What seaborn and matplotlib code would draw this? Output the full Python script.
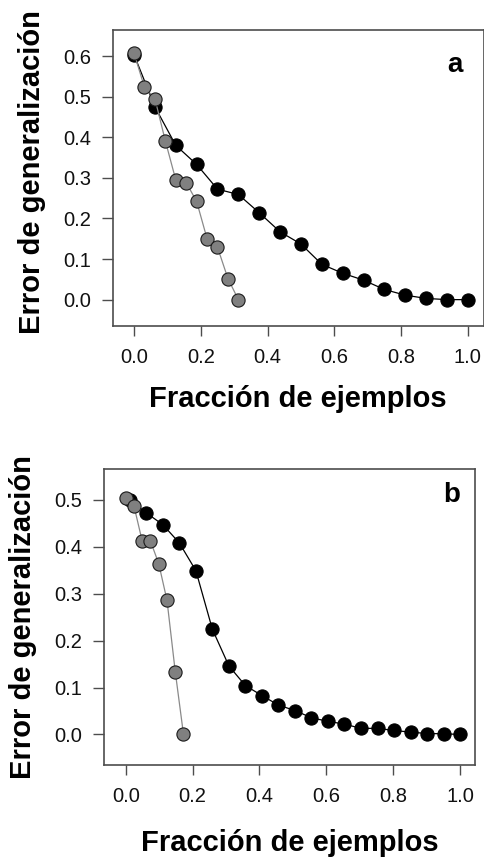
import matplotlib
matplotlib.use("Agg")
import matplotlib.pyplot as plt
import seaborn as sns
import numpy as np

# panel a: black curve (steps of 2/32) and gray curve (steps of 1/32)
a_black_x = [0, 2/32, 4/32, 6/32, 8/32, 10/32, 12/32, 14/32, 16/32, 18/32,
             20/32, 22/32, 24/32, 26/32, 28/32, 30/32, 1.0]
a_black_y = [0.603, 0.475, 0.380, 0.333, 0.272, 0.259, 0.214, 0.167, 0.137,
             0.087, 0.065, 0.048, 0.025, 0.011, 0.003, 0.0, 0.0]
a_gray_x = [0, 1/32, 2/32, 3/32, 4/32, 5/32, 6/32, 7/32, 8/32, 9/32, 10/32]
a_gray_y = [0.607, 0.523, 0.495, 0.391, 0.295, 0.288, 0.242, 0.150, 0.129,
            0.052, 0.0]

# panel b: black curve (steps of 4/81) and gray curve (steps of 2/81)
b_black_x = [1/81, 5/81, 9/81, 13/81, 17/81, 21/81, 25/81, 29/81, 33/81,
             37/81, 41/81, 45/81, 49/81, 53/81, 57/81, 61/81, 65/81, 69/81,
             73/81, 77/81, 1.0]
b_black_y = [0.499, 0.472, 0.447, 0.408, 0.349, 0.224, 0.146, 0.104, 0.083,
             0.0625, 0.051, 0.0355, 0.028, 0.022, 0.013, 0.013, 0.0085,
             0.005, 0.002, 0.0015, 0.0]
b_gray_x = [0, 2/81, 4/81, 6/81, 8/81, 10/81, 12/81, 14/81]
b_gray_y = [0.504, 0.487, 0.412, 0.412, 0.364, 0.286, 0.134, 0.0]

xticks = [0, 0.2, 0.4, 0.6, 0.8, 1.0]

sns.set_style("ticks")
plt.rcParams['font.family'] = ['Liberation Sans', 'DejaVu Sans']
plt.rcParams['text.color'] = 'black'
plt.rcParams['axes.labelcolor'] = 'black'

fig = plt.figure(figsize=(4.84, 8.6), dpi=100)
ax_a = fig.add_axes([0.2335, 0.6209, 0.7655, 0.3442])
ax_b = fig.add_axes([0.2155, 0.1105, 0.7655, 0.3438])

box_col = '#4d4d4d'


def draw_panel(ax, bx, by, gx, gy, letter, yticks, ylim, xlim, lpos,
               ylab_pos, xlab_pos):
    sns.lineplot(x=bx, y=by, ax=ax, color='black', linewidth=0.9,
                 marker='o', markersize=9.5, markerfacecolor='black',
                 markeredgecolor='black', markeredgewidth=0.8, sort=False)
    sns.lineplot(x=gx, y=gy, ax=ax, color='#8a8a8a', linewidth=0.9,
                 marker='o', markersize=9.5, markerfacecolor='#808080',
                 markeredgecolor='#1a1a1a', markeredgewidth=0.8, sort=False)
    ax.set_xlim(*xlim)
    ax.set_ylim(*ylim)
    ax.set_xticks(xticks)
    ax.set_xticklabels(['%.1f' % t for t in xticks])
    ax.set_yticks(yticks)
    ax.set_yticklabels(['%.1f' % t for t in yticks])
    for s in ax.spines.values():
        s.set_visible(True)
        s.set_color(box_col)
        s.set_linewidth(1.2)
    ax.tick_params(axis='x', length=7, width=1, color=box_col, pad=9,
                   labelsize=14.5, labelcolor='#111111')
    ax.tick_params(axis='y', length=8, width=1, color=box_col, pad=8,
                   labelsize=14.5, labelcolor='#111111')
    ax.set_xlabel('Fracción de ejemplos', fontsize=21, fontweight='bold',
                  va='center')
    ax.set_ylabel('Error de generalización', fontsize=21, fontweight='bold',
                  va='center')
    ax.xaxis.set_label_coords(*xlab_pos)
    ax.yaxis.set_label_coords(*ylab_pos)
    ax.text(lpos[0], lpos[1], letter, transform=ax.transAxes, fontsize=20,
            fontweight='bold', ha='center', va='center')


draw_panel(ax_a, a_black_x, a_black_y, a_gray_x, a_gray_y, 'a',
           [0.0, 0.1, 0.2, 0.3, 0.4, 0.5, 0.6], (-0.065, 0.664),
           (-0.063, 1.047), (0.923, 0.882), (-0.218, 0.52), (0.5, -0.245))
draw_panel(ax_b, b_black_x, b_black_y, b_gray_x, b_gray_y, 'b',
           [0.0, 0.1, 0.2, 0.3, 0.4, 0.5], (-0.065, 0.565),
           (-0.064, 1.044), (0.938, 0.913), (-0.219, 0.5), (0.5, -0.265))

fig.savefig('out.png', dpi=100, facecolor='white')
